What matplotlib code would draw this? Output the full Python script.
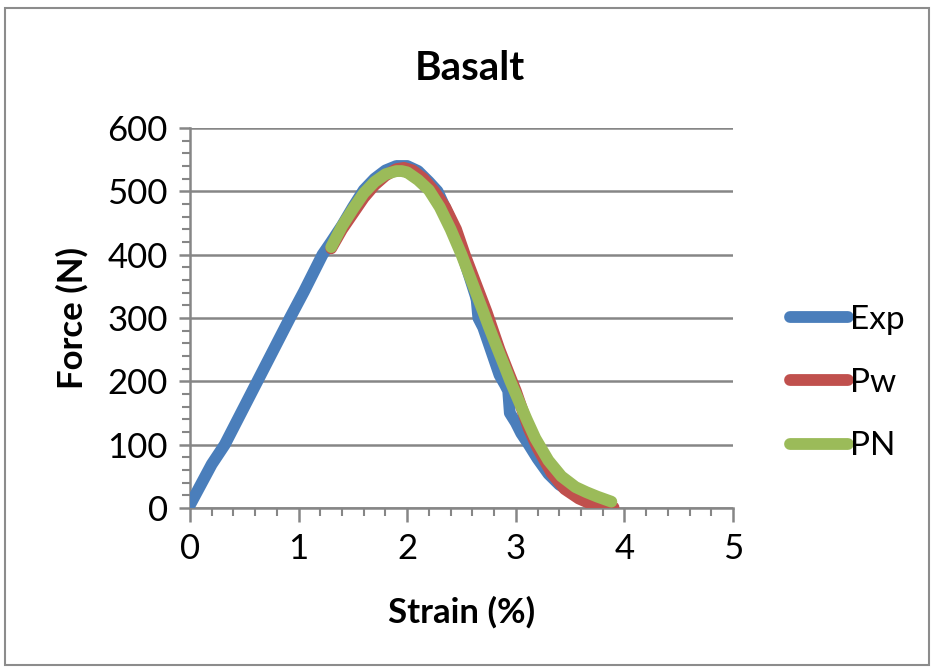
import matplotlib
matplotlib.use("Agg")
import matplotlib.pyplot as plt
from matplotlib.patches import Rectangle
from matplotlib.ticker import MultipleLocator

plt.rcParams['font.family'] = ['Lato', 'DejaVu Sans']

exp_x = [0.00, 0.10, 0.20, 0.32, 0.47, 0.62, 0.77, 0.92, 1.05, 1.22, 1.30,
         1.40, 1.50, 1.60, 1.70, 1.80, 1.90, 2.00, 2.10, 2.20, 2.28, 2.40, 2.49,
         2.58, 2.63, 2.64, 2.655, 2.70, 2.75, 2.80, 2.85, 2.90, 2.93, 2.945, 3.00,
         3.05, 3.12, 3.20, 3.30, 3.40, 3.50, 3.60, 3.70, 3.80, 3.87]
exp_y = [5, 37, 69, 100, 150, 200, 250, 300, 342, 400, 420,
         446, 475, 502, 520, 533, 540, 540, 532, 515, 500, 455, 410,
         362, 335, 328, 300, 285, 260, 235, 210, 195, 185, 150, 135,
         118, 100, 78, 54, 37, 26, 19, 15, 12, 8]

# Pw model
pw_x = [1.30, 1.40, 1.50, 1.60, 1.70, 1.80, 1.90, 1.97, 2.05, 2.15, 2.25, 2.35,
        2.45, 2.53, 2.63, 2.73, 2.78, 2.85, 2.93, 3.00, 3.05, 3.12, 3.20, 3.33,
        3.45, 3.58, 3.70, 3.80, 3.90]
pw_y = [410, 440, 465, 490, 510, 525, 535, 537, 533, 520, 500, 475,
        440, 400, 355, 310, 285, 250, 215, 185, 160, 125, 95, 55,
        30, 15, 6, 2, 1]

# PN model
pn_x = [1.30, 1.40, 1.50, 1.60, 1.70, 1.80, 1.90, 1.95, 2.00, 2.10, 2.20, 2.30,
        2.40, 2.50, 2.60, 2.70, 2.75, 2.80, 2.90, 2.95, 3.00, 3.10, 3.18, 3.30,
        3.42, 3.55, 3.65, 3.75, 3.88]
pn_y = [412, 445, 472, 497, 515, 527, 532, 532, 530, 518, 502, 475,
        440, 400, 355, 310, 287, 265, 222, 200, 180, 140, 110, 75,
        50, 33, 25, 18, 10]

series_names = ['Exp', 'Pw', 'PN']
colors = ['#4A7EBB', '#C0504D', '#9BBB59']
grid_col = '#868686'

fig = plt.figure(figsize=(9.33, 6.70), dpi=100)
fig.patches.append(Rectangle((5 / 933, 5 / 670), 924 / 933, 657 / 670,
                             transform=fig.transFigure, fill=False,
                             edgecolor='#8c8c8c', linewidth=1.5))

ax = fig.add_axes([190 / 933, 1 - 508 / 670, 543 / 933, 380 / 670])

lw = 8.5
ax.plot(exp_x, exp_y, color=colors[0], lw=lw, solid_capstyle='round', label=series_names[0])
ax.plot(pw_x, pw_y, color=colors[1], lw=lw, solid_capstyle='round', label=series_names[1])
ax.plot(pn_x, pn_y, color=colors[2], lw=lw, solid_capstyle='round', label=series_names[2])

ax.set_xlim(0, 5)
ax.set_ylim(0, 600)
ax.xaxis.set_major_locator(MultipleLocator(1))
ax.xaxis.set_minor_locator(MultipleLocator(0.2))
ax.yaxis.set_major_locator(MultipleLocator(100))
ax.yaxis.set_minor_locator(MultipleLocator(20))
ax.grid(axis='y', which='major', color=grid_col, lw=1.8)
ax.set_axisbelow(True)

for s in ['top', 'right']:
    ax.spines[s].set_visible(False)
for s in ['left', 'bottom']:
    ax.spines[s].set_color(grid_col)
    ax.spines[s].set_linewidth(1.8)
    ax.spines[s].set_zorder(0.5)

ax.tick_params(axis='both', which='major', color=grid_col, width=1.8,
               labelsize=25, pad=8)
ax.tick_params(axis='x', which='major', length=10)
ax.tick_params(axis='y', which='major', length=8)
ax.tick_params(axis='both', which='minor', color=grid_col, width=1.5, length=6)

fig.text(470 / 933, 1 - 68 / 670, 'Basalt', fontsize=29, fontweight='bold',
         ha='center', va='center')
fig.text(462 / 933, 1 - 612 / 670, 'Strain (%)', fontsize=25, fontweight='bold',
         ha='center', va='center')
fig.text(72 / 933, 1 - 318 / 670, 'Force (N)', fontsize=25, fontweight='bold',
         ha='center', va='center', rotation=90)

ax.legend(loc='center left', bbox_to_anchor=(773 / 933, 1 - 383 / 670),
          bbox_transform=fig.transFigure, frameon=False, fontsize=24,
          handlelength=1.75, handletextpad=0.05, labelspacing=1.0, borderpad=0)

fig.savefig('out.png', dpi=100)
